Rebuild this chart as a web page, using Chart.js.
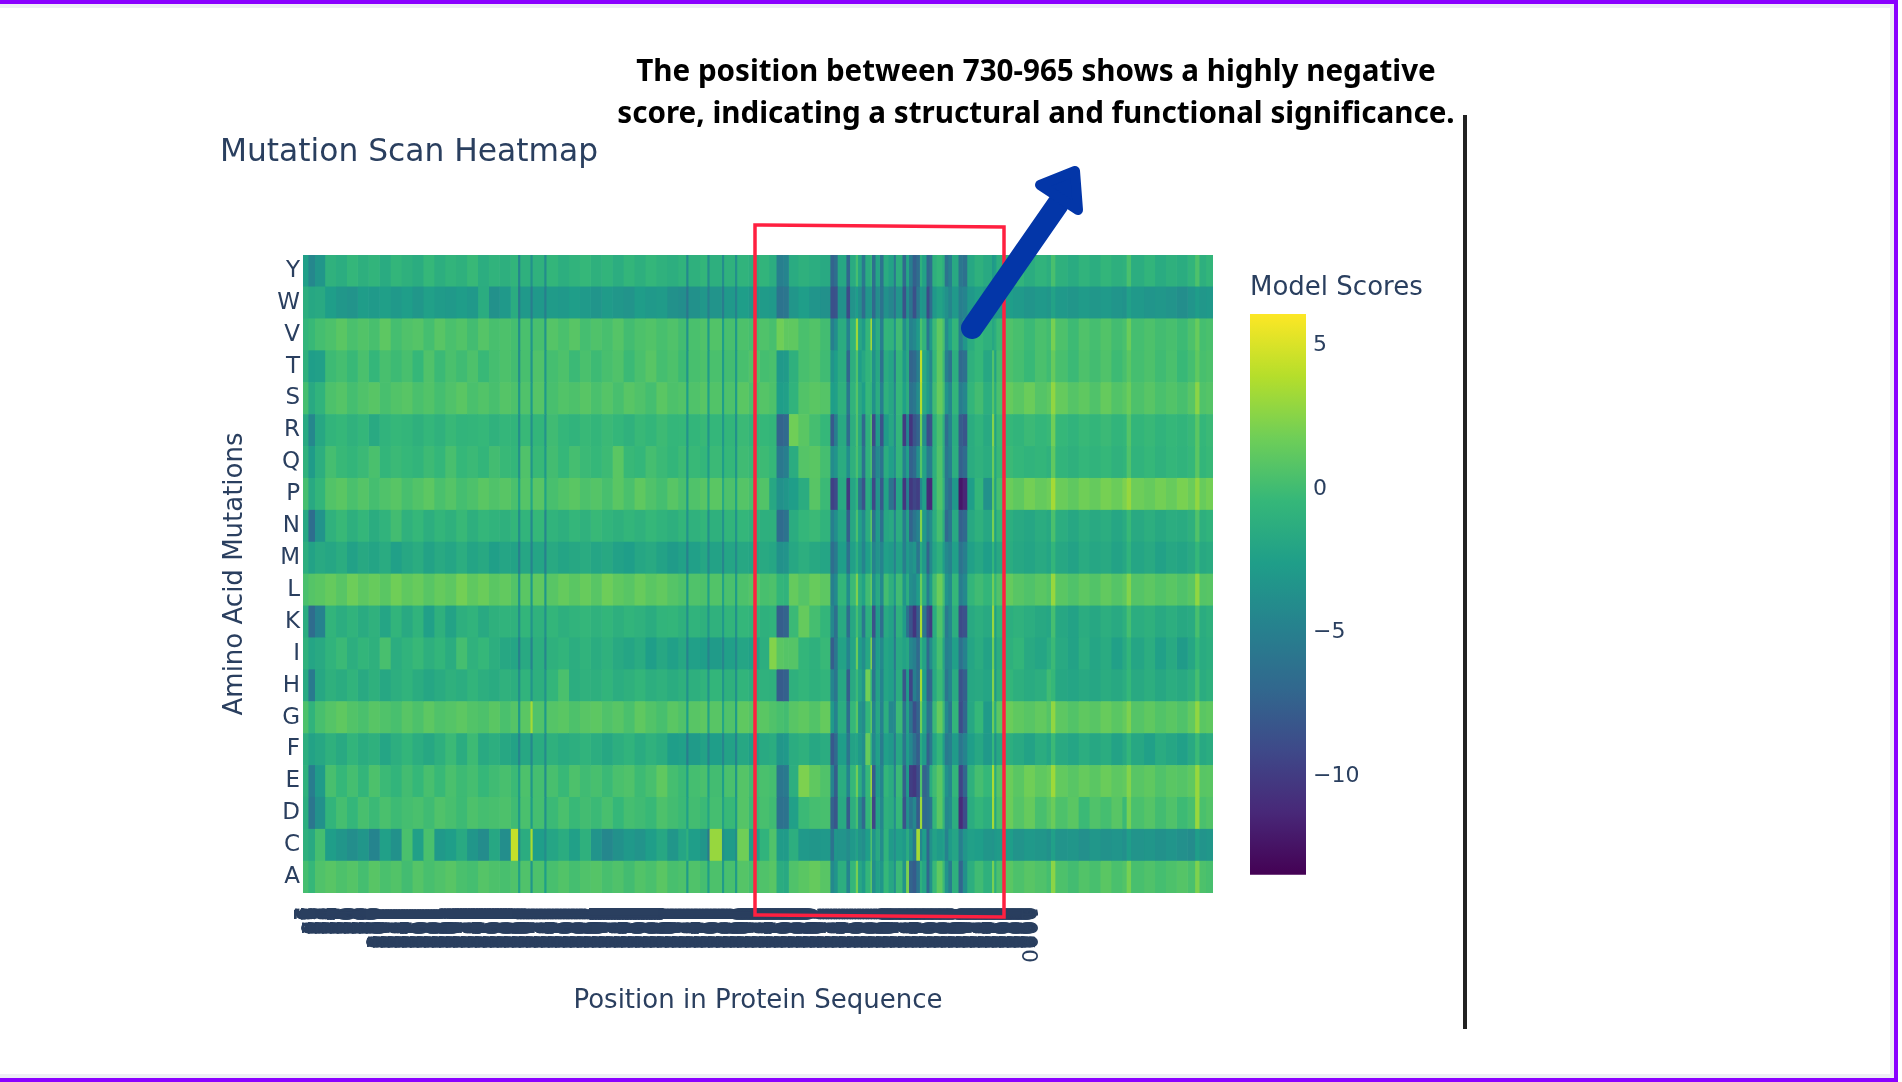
<!DOCTYPE html>
<html><head><meta charset="utf-8">
<style>
html,body{margin:0;padding:0;background:#fff;width:1902px;height:1082px;overflow:hidden;position:relative}
canvas{position:absolute}
#note{position:absolute;left:536px;top:49px;width:1000px;text-align:center;font:700 29.6px/42px "Noto Sans",sans-serif;color:#000;z-index:3}
#art{position:absolute;left:0;top:0;z-index:2}
</style>
<script src="https://cdn.jsdelivr.net/npm/chart.js@4/dist/chart.umd.js"></script>
</head><body>
<canvas id="heat" width="1902" height="1082" style="left:0;top:0"></canvas>
<canvas id="bar" width="340" height="630" style="left:1240px;top:265px"></canvas>
<svg id="art" width="1902" height="1082">
<rect x="0" y="4" width="1894" height="4" fill="#eeeef4"/><rect x="0" y="1074" width="1894" height="4" fill="#eeeef4"/><rect x="1890" y="4" width="4" height="1074" fill="#eeeef4"/>
<rect x="0" y="0" width="1898" height="4" fill="#8a00ff"/><rect x="0" y="1078" width="1898" height="4" fill="#8a00ff"/><rect x="1894" y="0" width="4" height="1082" fill="#8a00ff"/>
<rect x="1463" y="115" width="4" height="914" fill="#222"/>
<polygon points="755,225 1004,227 1004,917 755,915" fill="none" stroke="#ff2040" stroke-width="3.5"/>
<line x1="972" y1="328" x2="1058" y2="204" stroke="#0336a8" stroke-width="22" stroke-linecap="round"/>
<polygon points="1075,171 1040,185 1078,210" fill="#0336a8" stroke="#0336a8" stroke-width="10" stroke-linejoin="round"/>
</svg>
<div id="note">The position between 730-965 shows a highly negative<br>score, indicating a structural and functional significance.</div>
<script>
const rowLabels=['Y','W','V','T','S','R','Q','P','N','M','L','K','I','H','G','F','E','D','C','A'];
const columnStarts=[0,7,16,30,45,60,75,90,105,120,135,150,165,180,195,210,225,240,255,270,285,295,298,312,315,331,334,350,365,380,395,410,425,440,455,470,485,500,515,526,529,545,555,558,575,578,593,596,612,
627,640,650,660,667,680,695,710,724,729,734,746,751,759,762,767,772,779,781,786,792,797,804,811,814,823,828,832,837,842,847,850,856,860,864,870,878,881,886,891,900,906,912,922,934,946,949,952,
963,975,990,1005,1021,1027,1033,1050,1065,1080,1095,1110,1125,1131,1137,1155,1170,1185,1200,1215,1225,1231,1240];
const positionEnd=1250;
const firstPosition=5;
const positionCount=1000;
const colorbarTicks=[-10,-5,0,5];
const scoreMin=-13.45, scoreMax=6.1;
const viridis=['#440154','#482878','#3e4989','#31688e','#26828e','#1f9e89','#35b779','#6ece58','#b5de2b','#fde725'];

const Y=[-2.5,-4.4,-3.2,-0.9,-1.3,-0.5,-1.1,-0.7,-1.5,-0.6,
-1.0,-1.4,-0.4,-1.2,-0.7,-1.0,-0.3,-1.3,-0.8,-1.1,
-0.7,-4.6,-1.0,-3.6,-0.9,-3.9,-0.6,-1.2,-0.8,-0.4,
-1.0,-0.7,-1.3,-0.6,-1.1,-0.5,-0.9,-1.2,-0.8,-4.2,
-1.0,-0.6,-4.0,-1.1,-3.8,-0.9,-3.7,-0.8,-1.2,-0.7,
-1.3,-5.0,-4.6,-1.5,-1.0,-1.3,-1.6,-7.2,-6.5,-1.8,
-7.0,-1.5,0.2,-2.0,-5.5,-1.4,-0.5,-6.2,-2.0,-6.0,
-1.5,-2.2,-5.5,-1.2,-6.8,-2.0,-5.2,-7.5,-6.5,-1.0,
-2.2,-7.0,-6.3,-1.0,-0.5,-1.2,-6.0,-5.0,-1.6,-5.8,
-6.2,-1.8,-1.0,-1.6,-3.0,-2.5,-1.2,-1.0,-0.7,-1.4,
-0.8,-1.2,0.3,-1.0,-1.5,-0.8,-1.3,-0.6,-1.1,-0.9,
0.4,-1.3,-0.7,-1.5,-1.0,-1.4,-0.7,0.5,-1.1,-0.6];
const W=[-1.2,-1.8,-1.6,-2.6,-3.1,-3.4,-2.7,-2.9,-2.5,-3.0,
-2.6,-3.1,-2.4,-2.8,-3.0,-2.7,-3.0,-1.4,-3.6,-3.0,
-1.4,-5.4,-3.0,-5.2,-3.0,-5.0,-2.8,-3.0,-2.6,-2.9,
-3.3,-2.8,-3.1,-3.4,-2.7,-3.0,-2.8,-3.6,-3.8,-5.8,
-3.6,-3.1,-5.0,-3.4,-5.2,-3.0,-4.8,-2.6,-3.2,-2.8,
-3.0,-6.0,-5.8,-3.2,-2.6,-3.3,-3.6,-8.6,-8.4,-3.6,
-9.0,-3.4,-2.6,-3.8,-6.5,-3.2,-3.0,-6.8,-3.8,-6.0,
-3.6,-4.4,-6.2,-3.4,-8.4,-3.8,-6.0,-8.6,-5.6,-3.0,
-3.4,-9.0,-6.5,-3.0,-2.2,-2.8,-3.6,-4.5,-3.0,-5.0,
-4.6,-3.0,-2.4,-3.0,-3.4,-3.2,-3.0,-2.6,-2.9,-3.3,
-3.0,-3.2,-2.2,-3.0,-3.2,-2.8,-3.1,-2.9,-3.3,-3.5,
-2.4,-3.0,-3.3,-3.1,-3.4,-3.8,-3.3,-2.7,-3.1,-3.0];
const V=[-0.6,-0.3,0.2,0.5,1.0,0.4,0.7,0.3,1.1,0.2,
0.6,0.8,0.2,0.9,0.4,0.7,0.1,0.8,0.3,0.5,
0.2,-3.8,0.4,-3.2,0.3,-3.4,0.8,0.4,0.9,0.2,
0.6,0.3,0.8,0.1,0.5,0.7,0.3,0.6,0.1,-3.5,
0.4,0.6,-2.8,0.7,-2.6,0.3,-3.0,0.5,0.2,0.6,
0.3,1.8,1.2,1.2,0.4,0.7,0.1,-5.0,-3.8,-1.4,
-4.8,-0.8,3.2,-1.8,-2.8,-0.6,3.6,-3.2,-1.4,-5.0,
-0.6,-0.8,-3.4,0.0,-3.8,-1.6,-4.8,-4.2,-3.0,0.5,
-0.8,-5.8,-3.0,-0.2,1.2,0.2,-4.0,-2.4,-0.6,-5.0,
-3.2,-1.4,-0.4,-1.0,-1.8,-1.2,-0.2,0.6,0.3,-0.2,
0.4,0.1,2.0,0.5,-0.1,0.6,0.2,0.7,0.1,0.4,
1.6,0.2,0.5,0.1,0.3,-0.1,0.5,1.5,0.2,0.4];
const T=[-1.0,-2.6,-2.4,-0.1,0.2,-0.3,0.4,-0.5,0.3,-0.1,
0.3,-0.4,0.6,-0.2,0.4,0.0,0.5,-0.3,0.2,0.5,
0.1,-3.8,0.3,-3.4,0.6,-3.2,0.2,0.5,-0.2,0.4,
-0.1,0.3,0.6,-0.2,0.4,0.9,0.2,0.5,-0.1,-3.2,
0.3,0.5,-2.8,0.4,-2.8,0.1,-3.0,0.3,0.7,0.2,
0.4,-3.0,-2.8,-1.0,0.3,0.6,0.0,-3.4,-2.6,-1.4,
-7.0,-1.2,0.6,-2.6,-1.8,-0.8,-0.2,-3.6,-1.8,-6.0,
-1.4,-2.0,-5.2,-0.6,-3.0,-1.6,-7.2,-6.8,-5.2,4.2,
-1.8,-3.2,-4.4,-0.4,1.2,-0.2,-5.0,-6.0,-1.2,-6.8,
-6.2,-1.0,-0.4,-1.8,0.6,-2.2,0.1,0.5,0.2,-0.3,
0.4,0.0,1.4,0.3,-0.2,0.5,0.1,0.6,-0.1,0.3,
1.0,0.2,0.5,0.0,0.4,-0.3,0.2,1.2,0.3,0.5];
const S=[0.2,-1.6,-0.8,0.5,0.8,0.2,0.6,0.9,0.3,0.7,
0.9,0.4,0.7,0.2,0.6,1.0,0.4,0.7,0.3,0.8,
0.5,-3.2,0.6,-3.0,0.8,-3.0,0.3,0.7,0.5,0.9,
0.4,0.8,0.3,0.9,0.6,0.2,1.0,0.5,0.7,-2.6,
0.6,0.9,-2.4,0.7,-2.6,0.5,-2.8,1.0,0.4,0.8,
0.5,-2.6,-2.4,-0.8,0.7,1.0,0.8,-2.6,-2.4,-1.0,
-5.6,-0.8,0.8,-1.6,-2.6,-0.4,-0.6,-3.6,-1.4,-5.0,
-1.0,-1.8,-4.4,-0.4,-2.4,-1.2,-6.2,-5.6,-4.0,3.8,
-1.6,-2.8,-3.8,0.0,1.4,0.3,-3.4,-4.4,-0.6,-5.2,
-4.4,-0.6,0.1,-1.2,0.8,-1.4,0.4,1.4,1.0,1.6,
0.8,1.1,2.8,1.4,0.8,1.2,0.6,1.4,0.7,1.0,
1.6,0.5,0.9,0.4,0.7,0.3,0.9,2.6,0.6,0.8];
const R=[-1.6,-4.4,-1.8,-0.7,-0.4,-0.9,-0.5,-1.6,-0.8,-0.4,
-0.6,-1.0,-0.5,-0.9,-0.3,-0.7,-0.6,-0.4,-0.9,-0.5,
-0.7,-3.8,-0.3,-3.6,-0.6,-3.4,0.0,-0.5,-0.8,-0.3,
-0.6,-0.2,-0.5,-0.9,-0.3,-0.6,-0.1,-0.5,-0.4,-3.4,
-0.6,-0.3,-3.2,-0.5,-3.0,-0.6,-3.6,-0.2,-0.7,-0.4,
-0.6,-7.2,-6.8,1.8,1.0,0.2,-0.4,-8.0,-5.2,-1.6,
-6.6,-1.2,0.6,-1.8,-6.8,-1.0,0.8,-9.0,-2.8,-8.4,
-2.8,-1.8,-4.2,-0.6,-10.0,-4.6,-10.4,-8.2,-7.2,1.8,
-3.8,-8.8,-8.4,-1.0,0.4,-1.2,-6.4,-4.8,-1.4,-7.8,
-8.2,-1.4,-0.8,-1.6,2.4,-2.2,-0.2,-0.4,-0.7,-0.2,
-0.5,-0.3,1.8,-0.4,-0.8,-0.3,-0.6,-0.2,-0.7,-0.5,
0.8,-0.6,-0.3,-0.8,-0.4,-0.7,-0.3,1.0,-0.5,-0.2];
const Q=[-0.9,-2.8,-1.2,0.2,-0.3,-0.6,-0.2,0.4,-0.6,-0.2,
-0.4,-0.7,-0.1,-0.5,0.3,-0.4,-0.2,-0.6,0.1,-0.3,
-0.5,-3.6,0.6,-3.2,-0.3,-3.0,0.1,-0.4,0.2,-0.2,
-0.4,-0.1,1.0,-0.3,-0.5,0.2,-0.2,-0.6,-0.1,-3.2,
-0.3,-0.5,-2.8,-0.2,-2.6,-0.4,-3.2,0.0,-0.3,-0.1,
-0.4,-5.6,-5.0,-1.4,0.8,1.0,0.2,-4.0,-3.4,-1.4,
-3.8,-1.0,0.4,-1.4,-6.0,-0.9,0.5,-6.8,-4.2,-6.0,
-1.4,-2.4,-4.0,-0.7,-4.8,-2.4,-7.4,-6.6,-3.8,0.8,
-2.2,-5.4,-5.2,-1.0,0.6,-1.2,-5.8,-5.0,-1.2,-7.4,
-6.6,-1.4,-0.9,-1.4,1.6,-2.0,-0.3,-0.2,-0.5,-0.8,
-0.6,-0.9,1.2,-0.7,-1.0,-0.5,-0.8,-0.4,-0.9,-0.7,
0.6,-0.8,-0.4,-0.9,-0.5,-0.8,-0.4,1.0,-0.6,-0.3];
const P=[0.2,-1.6,-0.6,0.7,1.0,0.4,0.8,0.2,0.6,0.9,
0.3,0.7,1.1,0.4,0.8,0.2,0.5,1.0,0.6,0.9,
0.4,-2.4,0.8,-2.0,0.9,-2.2,0.3,0.7,1.0,0.5,
0.8,0.3,1.0,0.4,1.2,0.6,0.2,0.9,0.4,-3.0,
0.6,0.9,-1.8,1.0,-1.6,0.5,-2.2,0.8,0.3,0.7,
-1.8,-3.6,-3.2,-2.6,-1.4,0.9,-0.2,-9.6,-9.0,-1.6,
-10.2,-2.0,-0.6,-5.8,-8.4,-1.4,-2.4,-9.2,-3.4,-8.0,
-2.2,-6.0,-8.6,-2.0,-10.4,-5.0,-10.2,-9.4,-9.8,-4.2,
-2.4,-11.0,-11.2,-1.0,0.6,-0.8,-5.6,-6.4,-3.0,-12.2,
-11.4,-2.6,-0.6,-3.6,1.2,-2.2,0.2,1.6,1.2,1.9,
1.4,1.7,3.4,1.6,1.2,1.8,1.4,2.0,1.6,2.2,
3.0,1.7,1.4,1.9,1.5,2.1,1.6,2.8,1.5,1.9];
const N=[-1.8,-6.4,-3.4,-0.9,-0.3,-1.1,-0.5,-1.4,-0.8,0.1,
-0.9,-0.4,-1.2,-0.6,-1.0,-0.3,-1.1,-0.5,-0.8,-1.0,
-0.6,-3.8,-0.7,-4.2,-0.4,-4.4,-0.8,-1.1,-0.5,-0.9,
-0.3,-0.7,-1.0,-0.6,-0.9,-0.4,-0.8,-1.1,-0.6,-3.4,
-0.9,-0.6,-3.6,-1.0,-3.4,-0.7,-3.4,-0.5,-0.9,-1.1,
-1.0,-6.6,-6.0,-1.4,-0.5,-0.2,-0.8,-5.0,-3.8,-2.0,
-7.6,-1.8,0.4,-2.4,-4.2,-1.4,1.2,-6.0,-2.8,-6.2,
-1.8,-1.6,-4.6,-1.3,-5.2,-2.2,-7.2,-5.8,-4.8,2.4,
-3.0,-5.0,-4.0,-1.3,0.2,-1.4,-6.8,-5.8,-1.6,-7.4,
-6.8,-1.7,-1.0,-1.8,2.0,-2.4,-0.5,-1.2,-1.6,-1.9,
-1.4,-1.7,0.4,-1.3,-1.8,-1.2,-1.6,-1.3,-1.9,-1.5,
-0.3,-1.6,-1.2,-1.7,-1.3,-1.5,-1.0,0.6,-1.1,-0.8];
const M=[-1.2,-2.2,-1.6,-1.9,-1.4,-2.3,-1.7,-2.1,-1.5,-2.4,
-1.8,-1.4,-2.2,-1.6,-2.0,-1.3,-2.1,-1.7,-2.5,-2.0,
-2.2,-5.0,-1.9,-4.6,-2.0,-4.8,-1.6,-2.1,-1.8,-1.5,
-2.0,-1.7,-2.3,-2.6,-1.9,-1.6,-2.2,-2.8,-2.3,-4.8,
-2.4,-1.9,-4.2,-2.2,-4.4,-2.0,-4.0,-1.8,-2.1,-1.6,
-1.9,-3.6,-3.4,-1.8,-1.2,-1.7,-2.0,-6.4,-5.4,-2.6,
-6.2,-2.4,-1.0,-2.8,-4.6,-2.5,-0.6,-4.8,-3.4,-4.6,
-2.4,-2.8,-4.8,-2.2,-5.0,-2.8,-3.8,-3.2,-5.8,-1.4,
-3.0,-7.2,-4.2,-2.0,-1.0,-2.6,-4.2,-4.8,-2.4,-6.0,
-5.0,-2.4,-1.8,-2.6,-0.6,-2.8,-1.7,-1.4,-1.8,-2.1,
-1.6,-2.0,-0.6,-1.8,-2.2,-1.5,-1.9,-1.6,-2.2,-1.8,
-0.8,-2.0,-1.6,-2.3,-1.8,-2.1,-1.6,-0.4,-1.7,-1.5];
const L=[0.4,0.8,1.0,1.4,0.9,1.7,1.1,1.5,1.0,1.8,
1.2,1.5,0.9,1.4,1.1,1.9,1.2,1.6,1.0,1.3,
0.7,-3.4,1.0,-3.0,1.2,-3.2,0.9,1.4,1.0,1.5,
0.9,1.7,1.2,0.9,1.5,1.0,1.3,0.8,0.5,-3.0,
0.6,0.5,-2.4,0.7,-2.2,0.4,-2.8,0.5,0.8,0.3,
0.5,-0.6,-0.8,1.4,0.8,1.5,1.1,-5.0,-4.2,-0.6,
-3.8,-0.2,2.2,-1.2,-2.2,0.0,1.4,-3.6,-1.6,-4.2,
0.1,-1.0,-3.2,0.0,-3.2,-1.2,-3.8,-4.2,-2.8,1.6,
-1.4,-5.2,-2.8,0.1,1.6,0.2,-3.4,-4.0,-0.4,-5.2,
-4.2,-0.6,0.0,-0.6,1.8,-0.4,0.6,1.4,0.9,0.6,
1.0,0.7,3.0,1.0,0.6,1.1,0.7,1.3,0.8,1.2,
2.4,0.8,1.1,0.7,1.0,0.6,1.0,2.8,0.8,0.9];
const K=[-1.4,-6.6,-4.8,-0.7,-1.3,-0.8,-1.5,-0.9,-2.0,-0.7,
-1.6,-0.8,-2.4,-1.0,-2.2,-1.1,-0.8,-1.6,-1.0,-0.8,
-0.9,-3.8,-0.6,-3.4,-0.9,-3.6,-0.6,-1.1,-0.8,-0.5,
-0.9,-0.6,-1.1,-0.7,-0.9,-1.4,-0.7,-0.6,-1.0,-3.6,
-0.8,-1.0,-3.2,-0.9,-3.0,-0.7,-3.6,-0.5,-0.8,-1.0,
-0.8,-7.6,-7.2,-0.2,1.4,0.2,-0.6,-4.4,-6.2,-1.6,
-6.4,-1.8,0.2,-1.6,-5.6,-1.2,-0.6,-8.4,-2.8,-6.4,
-1.6,-2.2,-5.4,-1.0,-2.8,-6.2,-8.4,-10.4,-7.6,3.6,
-5.8,-9.2,-10.0,-1.4,0.6,-1.0,-5.4,-4.4,-1.2,-9.0,
-8.4,-1.6,-1.2,-1.6,3.0,-2.4,-0.7,-1.2,-0.9,-1.3,
-1.7,-1.9,0.2,-1.8,-2.2,-1.4,-1.8,-1.2,-1.6,-1.1,
0.2,-1.3,-1.0,-1.6,-1.2,-1.7,-1.5,0.3,-1.4,-1.0];
const I=[-0.9,-2.0,-1.6,-0.8,-0.2,-1.2,-0.6,-1.0,0.3,-1.3,
-0.8,-0.3,-1.1,-0.6,-1.4,0.2,-0.9,-0.4,-1.2,-1.8,
-2.0,-5.0,-1.6,-4.6,-1.2,-4.4,-1.0,-0.7,-1.3,-0.8,
-1.4,-0.9,-1.6,-2.0,-1.5,-2.6,-1.8,-2.4,-1.8,-4.6,
-2.4,-2.6,-4.6,-2.8,-4.4,-2.4,-4.2,-2.0,-2.4,-1.2,
2.4,1.0,0.8,0.8,-0.6,-1.0,-0.3,-7.6,-5.8,-2.2,
-4.6,-2.0,1.6,-2.6,-3.8,-1.8,2.4,-5.6,-2.6,-4.2,
-2.0,-2.4,-5.4,-1.6,-2.2,-1.8,-4.4,-5.0,-6.8,-0.6,
-2.2,-6.8,-4.0,-1.6,0.2,-2.0,-5.0,-4.6,-2.4,-6.2,
-4.8,-2.0,-1.4,-2.2,1.8,-2.8,-1.3,-1.0,-0.6,-1.6,
-2.0,-1.3,-0.2,-1.6,-2.2,-1.2,-2.0,-1.5,-2.4,-1.6,
-0.6,-2.0,-1.3,-2.4,-1.6,-2.8,-1.9,-0.4,-1.5,-1.2];
const H=[-1.6,-5.4,-1.8,-1.0,-1.4,-0.8,-1.6,-1.0,-1.8,-1.2,
-0.8,-1.4,-1.9,-1.5,-1.0,-1.3,-0.7,-1.2,-1.5,-0.9,
-1.2,-3.8,-0.8,-3.4,-1.1,-3.4,-0.6,0.4,-1.3,-0.9,
-1.1,-0.7,-1.3,-1.0,-0.6,-1.2,-0.9,-1.4,-1.0,-3.6,
-1.1,-0.8,-3.4,-0.6,-3.2,-1.0,-3.6,-0.7,-1.2,-0.9,
-1.0,-7.8,-7.4,-1.0,-0.6,-1.0,-0.7,-4.6,-5.8,-1.8,
-7.6,-1.6,-0.2,-2.0,-3.4,1.8,-0.6,-5.8,-2.2,-4.6,
-2.0,-2.4,-4.8,-1.4,-8.2,-2.8,-9.4,-5.0,-6.4,3.4,
-2.6,-7.4,-7.0,-1.6,-0.2,-1.6,-5.8,-4.6,-1.5,-8.4,
-7.4,-1.8,-1.6,-2.0,2.4,-3.0,-1.0,-0.6,-1.1,-1.5,
-1.2,0.0,-0.4,-1.8,-2.0,-1.6,-1.9,-1.4,-1.7,-1.3,
-0.4,-1.6,-1.2,-1.8,-1.3,-1.6,-1.1,0.2,-1.4,-1.0];
const G=[0.5,-0.8,0.3,0.8,1.2,0.7,0.4,0.9,0.6,0.3,
0.9,0.5,1.1,0.6,0.8,1.1,0.7,0.5,1.0,0.4,
0.8,-3.0,1.0,3.4,0.6,-3.0,0.8,1.0,0.5,0.9,
1.1,0.6,0.9,0.4,1.2,0.7,0.3,1.0,0.6,-2.6,
0.9,1.1,-2.2,0.9,-2.0,0.6,-2.8,1.2,0.8,1.0,
0.6,0.3,0.1,0.9,1.2,0.7,1.4,-3.0,-4.8,-1.4,
-6.4,-0.4,1.0,-3.2,-4.0,-0.6,1.2,-4.6,-1.8,-4.8,
-1.2,-4.2,-4.4,-0.2,-6.0,-2.2,-6.0,-8.6,-7.2,1.8,
-2.0,-6.0,-5.6,-0.2,1.4,-0.2,-4.2,-5.6,-0.6,-8.8,
-7.0,-1.8,-0.4,-2.8,1.6,-1.6,1.0,1.6,1.2,0.9,
1.3,0.8,2.8,1.1,0.7,1.2,0.9,1.5,1.0,1.4,
2.2,0.8,1.2,0.7,1.0,0.6,1.3,2.8,1.0,1.2];
const F=[-1.2,-2.2,-1.8,-1.0,-1.6,-0.7,-1.4,-1.0,-2.0,-1.2,
-0.6,-1.3,-1.8,-1.1,-0.2,-1.4,-0.1,-1.6,-1.2,-1.8,
-2.2,-4.6,-1.8,-4.2,-1.4,-4.0,-1.0,-1.5,-1.2,-0.8,
-1.3,-1.8,-1.2,-0.8,-1.5,-0.9,-1.4,-2.6,-2.4,-5.2,
-2.8,-2.2,-4.6,-2.6,-4.4,-2.2,-4.6,-1.8,-2.6,-1.6,
-1.4,-3.2,-3.0,-1.4,-1.0,-1.8,-1.4,-8.0,-6.8,-2.6,
-5.8,-2.2,-2.0,-3.0,-3.8,1.4,-1.2,-4.4,-2.4,-5.2,
-2.4,-3.0,-5.4,-1.8,-5.8,-2.6,-4.4,-6.2,-7.6,-1.4,
-2.8,-7.4,-5.6,-2.0,-0.6,-2.6,-5.4,-5.0,-2.8,-5.8,
-4.6,-2.6,-1.8,-3.0,-0.4,-3.6,-1.8,-1.2,-1.6,-2.2,
-1.4,-1.9,-0.2,-1.6,-2.0,-1.3,-1.8,-1.4,-2.2,-1.6,
-0.6,-1.8,-2.4,-1.5,-1.9,-2.4,-1.6,-0.2,-1.7,-1.4];
const E=[-0.9,-5.2,-2.8,0.3,-0.4,0.2,-0.6,0.5,-0.2,-0.7,
0.1,-0.4,0.3,-0.3,0.4,-0.1,0.2,-0.4,0.0,0.3,
-0.2,-2.8,0.5,-3.2,0.2,-3.8,0.3,-0.3,0.5,0.0,
0.3,-0.2,0.4,0.6,-0.1,0.3,1.2,0.2,-0.2,-2.6,
0.2,0.4,-2.4,0.1,-2.6,0.4,-3.2,0.8,0.0,0.4,
0.2,-5.8,-5.4,-1.2,2.2,1.2,0.6,-4.8,-7.6,-1.4,
-4.6,-0.4,1.8,-1.4,-4.0,-0.4,3.4,-7.8,-2.8,-4.6,
-0.6,-1.4,-4.8,-0.2,-7.4,-2.8,-9.8,-10.2,-8.8,0.6,
-7.2,-6.4,-1.4,0.0,1.0,-0.4,-3.6,-4.4,-0.6,-9.4,
-7.0,-1.0,0.2,-0.4,3.6,-1.4,0.8,1.6,1.0,1.8,
1.2,1.5,3.2,1.3,0.9,1.4,1.0,1.6,1.1,1.3,
2.4,0.9,1.2,0.6,1.0,0.8,1.2,3.0,0.9,1.0];
const D=[-1.2,-5.8,-3.6,-0.7,0.2,-0.5,0.3,-0.2,0.4,-0.1,
0.2,0.4,0.0,0.6,0.3,-0.1,0.5,0.2,0.3,0.5,
0.0,-3.0,0.4,-2.8,0.2,-3.6,-0.2,0.4,-0.3,0.1,
-0.2,0.3,-0.4,0.2,0.0,-0.3,0.5,0.1,-0.2,-2.4,
0.1,-0.2,-2.0,0.2,-2.2,-0.3,-2.8,0.8,-0.2,0.3,
0.0,-6.2,-6.0,-2.4,-0.2,0.2,0.3,-7.4,-8.2,-1.6,
-7.8,-1.2,0.3,-4.0,-6.8,-0.6,1.0,-9.4,-2.2,-4.4,
-1.0,-1.4,-3.8,-0.4,-8.4,-3.6,-5.8,-4.4,-7.8,3.2,
-6.8,-6.4,-5.8,-0.6,1.0,-0.6,-4.4,-4.0,-1.2,-11.0,
-8.8,-1.4,-0.6,-1.2,3.4,-1.8,0.4,1.6,0.8,1.4,
0.3,0.9,1.6,0.5,1.0,-0.2,0.6,0.2,0.9,-0.2,
2.0,0.4,0.8,0.1,0.6,-0.1,0.3,3.0,0.4,0.7];
const C=[-1.0,-1.6,0.2,-2.6,-3.2,-3.8,-3.2,-4.6,-2.4,-3.6,
0.4,-2.4,0.4,-3.0,-2.6,-1.6,-3.2,-4.0,-1.8,-3.8,
4.4,-4.4,-1.4,3.6,-2.6,-3.8,-2.0,-1.4,-2.4,-1.0,
-3.4,-4.4,-3.6,-3.0,-3.4,-2.6,-1.8,-3.2,-2.0,-1.0,
-2.6,-3.2,-5.4,3.0,-3.6,-2.8,-3.8,1.8,-2.6,-0.8,
0.6,-2.8,-2.8,-1.2,-3.0,-3.2,-3.0,-6.0,-3.2,-3.4,
-4.0,-3.0,-2.2,-3.4,-3.8,-2.6,0.6,-3.4,-1.6,-4.0,
-0.8,-2.8,-3.8,-2.4,-3.0,-1.4,-3.4,-5.4,3.4,-4.4,
-2.6,-7.0,-3.6,-2.2,-2.8,-2.4,-4.8,-2.8,-2.0,-5.0,
-3.2,-2.4,-2.6,-3.2,-3.4,-3.0,-2.8,-2.6,-3.4,-3.0,
-3.2,-3.6,-2.4,-3.4,-3.2,-3.7,-3.1,-3.5,-3.3,-3.7,
-2.6,-3.4,-3.2,-3.6,-3.3,-3.7,-4.0,-2.6,-3.4,-3.1];
const A=[0.2,-0.4,0.6,0.9,0.5,0.8,0.2,0.9,0.4,0.7,
0.1,0.8,0.3,0.6,0.9,0.4,0.2,0.8,0.5,0.3,
0.6,-2.4,0.6,-3.2,0.5,-2.6,0.3,0.7,0.2,0.6,
0.8,0.3,0.6,0.1,0.7,0.4,1.0,0.3,0.5,-2.8,
0.6,0.2,-2.6,0.5,-2.8,0.3,-2.8,0.8,0.2,0.6,
0.9,-1.4,-1.6,0.6,1.0,1.4,0.9,-4.2,-3.4,-1.2,
-4.6,-0.5,2.0,-1.8,-2.8,-0.6,1.2,-3.8,-2.2,-3.2,
-0.4,-1.8,-3.6,-0.2,-3.4,2.2,-7.2,-7.8,-5.8,-1.0,
-2.0,-7.0,-3.6,-0.3,1.2,-0.2,-3.4,-5.2,-1.0,-7.0,
-3.6,-1.2,0.0,-1.0,2.0,-1.2,0.4,1.0,0.5,0.9,
0.6,0.2,2.6,0.5,0.1,0.7,0.3,1.0,0.4,0.7,
2.0,0.3,0.6,0.2,0.5,0.8,0.4,2.2,0.5,0.3];
const scoreRows=[Y,W,V,T,S,R,Q,P,N,M,L,K,I,H,G,F,E,D,C,A];

function scoreColor(v){
  const t=Math.max(0,Math.min(1,(v-scoreMin)/(scoreMax-scoreMin)))*(viridis.length-1);
  const i=Math.min(viridis.length-2,Math.floor(t)),f=t-i;
  const hex=(s,k)=>parseInt(s.substr(1+2*k,2),16);
  const c=[0,1,2].map(k=>Math.round(hex(viridis[i],k)*(1-f)+hex(viridis[i+1],k)*f));
  return `rgb(${c[0]},${c[1]},${c[2]})`;
}
const ink='#2a3f5f', face='"DejaVu Sans",sans-serif';
Chart.defaults.font.family=face; Chart.defaults.color=ink;

const datasets=columnStarts.map((start,c)=>{
  const end=c+1<columnStarts.length?columnStarts[c+1]:positionEnd;
  return {data:scoreRows.map(()=>[start,end]),backgroundColor:scoreRows.map(r=>scoreColor(r[c])),
    borderWidth:0,barPercentage:1,categoryPercentage:1,grouped:false};
});
const flipLabels={id:'flipLabels',beforeDraw(chart){
  chart.scales.x.getLabelItems().forEach(it=>{
    if(it.options.rotation<0){it.options.rotation=Math.PI/2;it.options.textAlign='left';it.textOffset=-it.textOffset;}
  });
}};
new Chart(document.getElementById('heat'),{type:'bar',plugins:[flipLabels],
  data:{labels:rowLabels,datasets},
  options:{indexAxis:'y',responsive:false,animation:false,
    layout:{padding:{left:220,right:689,top:0,bottom:65}},
    plugins:{legend:{display:false},tooltip:{enabled:false},
      title:{display:true,text:'Mutation Scan Heatmap',align:'start',color:ink,font:{size:31.3,weight:'normal'},padding:{top:134,bottom:83.4}}},
    scales:{
      x:{type:'linear',min:0,max:positionEnd,grid:{display:false,drawTicks:false},border:{display:false},
        ticks:{autoSkip:false,minRotation:90,maxRotation:90,padding:14,font:{size:22},color:ink,callback:v=>String(v+firstPosition)},
        afterBuildTicks(s){s.ticks=Array.from({length:positionCount},(_,i)=>({value:i+1-firstPosition}));},
        afterFit(s){s.height=124;},
        title:{display:true,text:'Position in Protein Sequence',color:ink,font:{size:26},padding:{top:0,bottom:0}}},
      y:{type:'category',grid:{display:false,drawTicks:false},border:{display:false},
        ticks:{autoSkip:false,padding:3,font:{size:23},color:ink},
        afterFit(s){s.width=83;},
        title:{display:true,text:'Amino Acid Mutations',color:ink,font:{size:26},padding:{top:0,bottom:0}}}
    }}});

new Chart(document.getElementById('bar'),{type:'bar',
  data:{labels:[''],datasets:[{data:[[scoreMin,scoreMax]],barPercentage:1,categoryPercentage:1,borderWidth:0,
    backgroundColor(ctx){const a=ctx.chart.chartArea; if(!a) return viridis[0];
      const g=ctx.chart.ctx.createLinearGradient(0,a.bottom,0,a.top);
      viridis.forEach((c,i)=>g.addColorStop(i/(viridis.length-1),c)); return g;}}]},
  options:{responsive:false,animation:false,
    layout:{padding:{left:10,right:94,top:0,bottom:20}},
    plugins:{legend:{display:false},tooltip:{enabled:false},
      title:{display:true,text:'Model Scores',align:'start',color:ink,font:{size:26,weight:'normal'},padding:{top:8,bottom:9.8}}},
    scales:{
      x:{display:false},
      y:{type:'linear',position:'right',min:scoreMin,max:scoreMax,grid:{display:false,drawTicks:false},border:{display:false},
        ticks:{padding:7,font:{size:22},color:ink,callback:v=>v<0?'\u2212'+Math.abs(v):String(v)},
        afterBuildTicks(s){s.ticks=colorbarTicks.map(value=>({value}));},
        afterFit(s){s.width=180;}}
    }}});
</script>
</body></html>
